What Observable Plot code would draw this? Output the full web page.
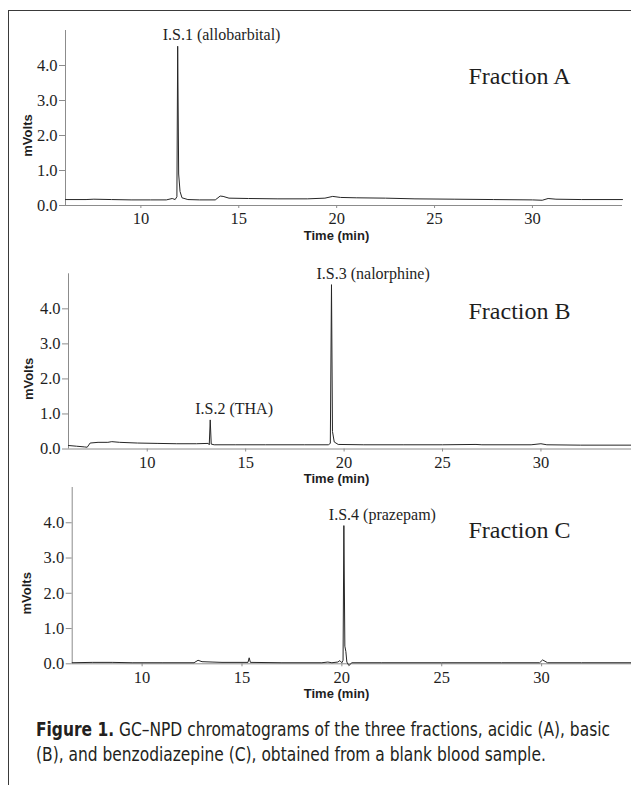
<!DOCTYPE html>
<html>
<head>
<meta charset="utf-8">
<script src="https://cdn.jsdelivr.net/npm/d3@7"></script>
<script src="https://cdn.jsdelivr.net/npm/@observablehq/plot@0.6"></script>
<style>
  html, body { margin: 0; padding: 0; background: #fff; }
  #wrap { position: relative; width: 631px; height: 785px; overflow: hidden; background: #fff; }
  #frame { position: absolute; left: 7.5px; top: 10px; width: 700px; height: 900px;
           border-left: 1.6px solid #3a3a3a; border-top: 1.6px solid #3a3a3a; }
  .panel { position: absolute; left: 0; top: 0; }
  #caption { position: absolute; left: 36px; top: 717px; color: #231f20; white-space: nowrap;
             font-family: "Liberation Sans Narrow", "DejaVu Sans Condensed", "Liberation Sans", sans-serif;
             font-size: 20px; line-height: 25px; transform-origin: 0 0; }
  #caption b { font-weight: bold; }
</style>
</head>
<body>
<div id="wrap">
  <div id="frame"></div>
  <div id="pA" class="panel"></div>
  <div id="pB" class="panel"></div>
  <div id="pC" class="panel"></div>
  <div id="caption"><span id="cap1"><b>Figure 1.</b> GC–NPD chromatograms of the three fractions, acidic (A), basic</span><br><span id="cap2">(B), and benzodiazepine (C), obtained from a blank blood sample.</span></div>
</div>
<script>
// ---------- data ----------
const xTicks = [10, 15, 20, 25, 30];
const yTicks = [0, 1, 2, 3, 4];
const yAxisLabel = "mVolts";
const xAxisLabel = "Time (min)";
const fractionNames = ["Fraction A", "Fraction B", "Fraction C"];

// Fraction A (acidic): [time (min), signal (mV)]
const traceA = [
  [6.15, 0.17], [7.2, 0.17], [7.6, 0.18], [8.5, 0.17], [9.5, 0.16], [10.5, 0.16],
  [11.3, 0.16], [11.6, 0.2], [11.75, 0.17], [11.84, 0.25], [11.88, 4.55], [11.93, 0.9],
  [12.0, 0.4], [12.1, 0.22], [12.4, 0.17], [13.0, 0.16], [13.8, 0.16], [14.05, 0.27],
  [14.2, 0.26], [14.5, 0.21], [15.5, 0.2], [17.0, 0.19], [18.5, 0.19], [19.4, 0.21],
  [19.8, 0.26], [20.2, 0.23], [21.0, 0.22], [22.5, 0.21], [24.0, 0.19], [26.0, 0.18],
  [28.0, 0.17], [30.0, 0.16], [30.5, 0.15], [30.8, 0.2], [31.2, 0.18], [32.5, 0.17], [34.6, 0.17]
];
const peakNamesA = ["I.S.1 (allobarbital)"];
const peakTimesA = [11.88];

// Fraction B (basic)
const traceB = [
  [6.0, 0.1], [6.4, 0.08], [6.8, 0.06], [6.95, 0.05], [7.1, 0.17], [7.5, 0.19], [8.0, 0.19],
  [8.2, 0.21], [8.6, 0.19], [9.5, 0.17], [10.5, 0.16], [11.5, 0.15], [12.5, 0.15], [13.1, 0.16],
  [13.15, 0.12], [13.2, 0.83], [13.25, 0.14], [13.4, 0.12], [14.5, 0.12], [16.0, 0.12],
  [18.0, 0.12], [19.2, 0.12], [19.3, 0.16], [19.36, 4.69], [19.41, 0.5], [19.5, 0.2],
  [19.7, 0.13], [21.0, 0.12], [23.0, 0.12], [25.0, 0.12], [26.7, 0.13], [27.0, 0.12],
  [29.5, 0.12], [30.0, 0.15], [30.3, 0.12], [32.0, 0.11], [34.6, 0.11]
];
const peakNamesB = ["I.S.2 (THA)", "I.S.3 (nalorphine)"];
const peakTimesB = [13.2, 19.36];

// Fraction C (benzodiazepine)
const traceC = [
  [6.5, 0.03], [7.5, 0.04], [8.5, 0.04], [9.5, 0.03], [11.0, 0.03], [12.6, 0.03], [12.8, 0.1],
  [13.0, 0.06], [13.5, 0.05], [14.0, 0.04], [15.3, 0.04], [15.36, 0.17], [15.42, 0.04],
  [17.0, 0.03], [19.0, 0.03], [19.3, 0.05], [19.5, 0.03], [19.8, 0.05], [19.9, 0.09],
  [20.0, 0.03], [20.06, 0.1], [20.1, 3.92], [20.15, 0.5], [20.2, 0.35], [20.25, 0.05],
  [20.35, -0.05], [20.5, 0.03], [22.0, 0.03], [25.0, 0.03], [28.0, 0.03], [29.9, 0.03],
  [30.05, 0.11], [30.3, 0.03], [32.0, 0.03], [34.5, 0.03]
];
const peakNamesC = ["I.S.4 (prazepam)"];
const peakTimesC = [20.1];

// ---------- drawing ----------
const serif = "'Liberation Serif', 'Times New Roman', serif";
const sans = "'Liberation Sans', Arial, sans-serif";
const W = 631, H = 785;
const yLabelAt = d3.mean(yTicks);

function panel(cfg) {
  const data = cfg.trace.map(([t, v]) => ({t, v}));
  const peaks = cfg.peakNames.map((name, i) => {
    const t = cfg.peakTimes[i];
    const p = data.find(d => d.t === t);
    return {name, t, v: p.v};
  });
  return Plot.plot({
    width: W, height: H,
    marginTop: cfg.top, marginBottom: H - cfg.bottom, marginLeft: cfg.left, marginRight: W - cfg.right,
    style: {fontFamily: serif, fontSize: "16px", color: "#222", background: "transparent", overflow: "visible"},
    x: {domain: cfg.xDomain},
    y: {domain: [0, 5]},
    marks: [
      Plot.ruleY([0], {stroke: "#8c8c8c", strokeWidth: 1}),
      Plot.ruleX([cfg.xDomain[0]], {y1: 0, y2: 5, stroke: "#8c8c8c", strokeWidth: 1}),
      Plot.axisX({ticks: xTicks, tickSize: 3, tickPadding: 4, label: null, stroke: "#8c8c8c", fill: "#1e1e1e", fontSize: 16.5}),
      Plot.axisY({ticks: yTicks, tickFormat: d => d.toFixed(1), tickSize: 6, tickPadding: 2, label: null,
                  stroke: "#8c8c8c", fill: "#1e1e1e", fontSize: 16.5}),
      Plot.line(data, {x: "t", y: "v", stroke: "#262626", strokeWidth: 1}),
      Plot.text(peaks, {x: "t", y: "v", text: "name", textAnchor: "start", lineAnchor: "bottom",
                        dx: -15, dy: -6, fontSize: 16, fill: "#1e1e1e"}),
      Plot.text([cfg.fraction], {text: d => d, frameAnchor: "top-right", textAnchor: "end", lineAnchor: "bottom",
                                 dx: cfg.fdx, dy: cfg.fdy, fontSize: 24, fill: "#1e1e1e"}),
      Plot.text([yAxisLabel], {text: d => d, y: () => yLabelAt, frameAnchor: "left", textAnchor: "middle",
                               lineAnchor: "middle", rotate: -90, dx: cfg.ydx,
                               fontFamily: sans, fontWeight: "bold", fontSize: 13, fill: "#1e1e1e"}),
      Plot.text([xAxisLabel], {text: d => d, frameAnchor: "bottom", textAnchor: "middle", dx: cfg.tdx, dy: cfg.tdy,
                               fontFamily: sans, fontWeight: "bold", fontSize: 13, fill: "#1e1e1e"})
    ]
  });
}

document.getElementById("pA").append(panel({
  trace: traceA, peakNames: peakNamesA, peakTimes: peakTimesA, fraction: fractionNames[0],
  xDomain: [6.15, 34.6], top: 30, bottom: 205, left: 65, right: 622,
  fdx: -52, fdy: 53, ydx: -38, tdx: -7.5, tdy: 34
}));
document.getElementById("pB").append(panel({
  trace: traceB, peakNames: peakNamesB, peakTimes: peakTimesB, fraction: fractionNames[1],
  xDomain: [6.0, 34.6], top: 273.3, bottom: 448.5, left: 68, right: 631,
  fdx: -61, fdy: 45, ydx: -40, tdx: -13.5, tdy: 33.5
}));
document.getElementById("pC").append(panel({
  trace: traceC, peakNames: peakNamesC, peakTimes: peakTimesC, fraction: fractionNames[2],
  xDomain: [6.5, 34.5], top: 487, bottom: 663.3, left: 71.7, right: 631,
  fdx: -61, fdy: 50, ydx: -45, tdx: -15.3, tdy: 34
}));

// fit caption line width to the reference (line 1 spans ~574 px)
const cap = document.getElementById("caption");
const w1 = document.getElementById("cap1").getBoundingClientRect().width;
cap.style.transform = `scaleX(${574 / w1})`;
</script>
</body>
</html>
